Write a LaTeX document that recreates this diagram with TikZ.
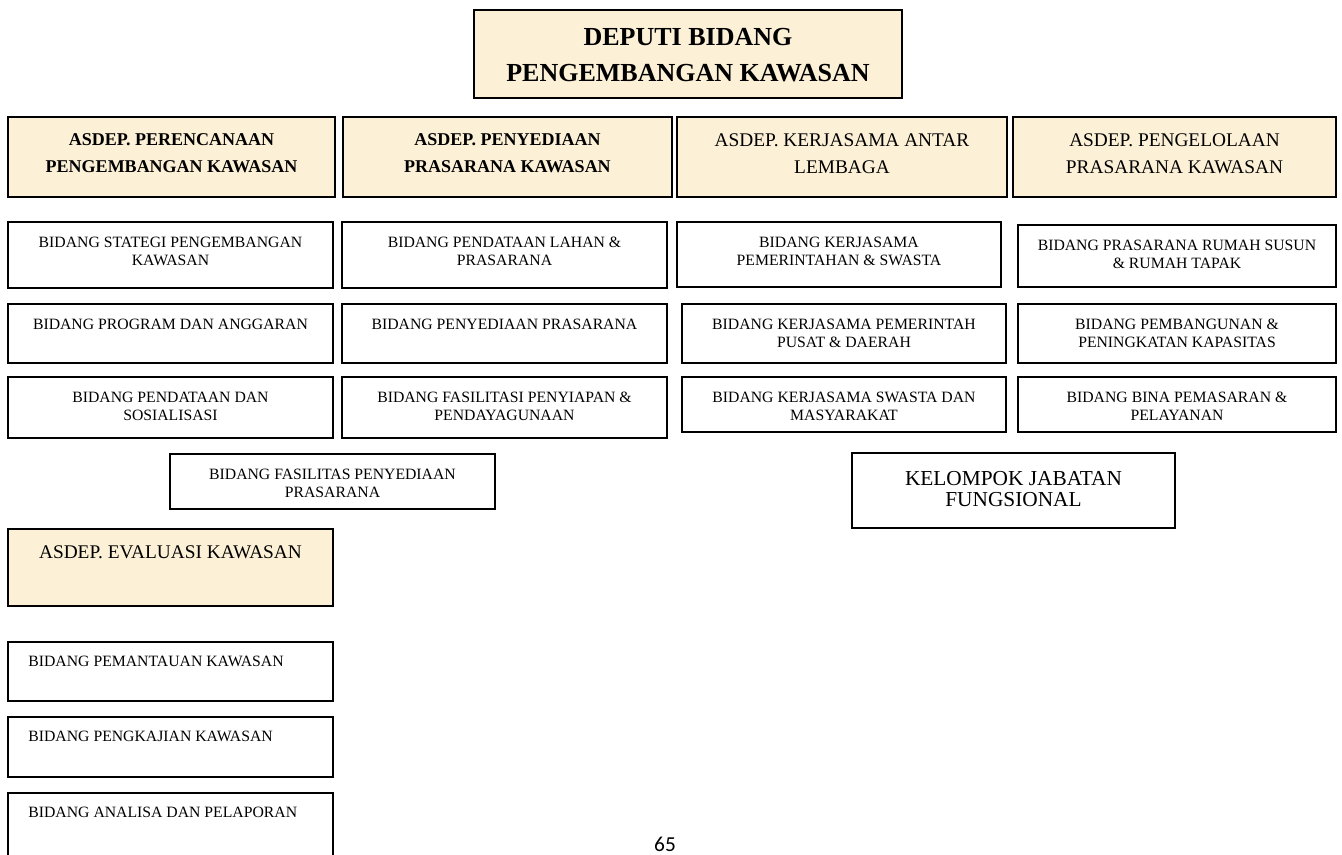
\documentclass[tikz,border=0pt]{standalone}
\usepackage{fontspec}
\setmainfont{Liberation Serif}
\newfontfamily\pagefont{Carlito}
\usepackage{tikz}
\usetikzlibrary{fit,shadows}
\definecolor{parch}{RGB}{252,240,214}
\tikzset{
    unit/.style={
           rectangle,
           draw=black, line width=1.3pt,
           fill=white,
           inner sep=0pt,
           drop shadow={shadow xshift=0.9pt, shadow yshift=-0.9pt, fill=black!40, opacity=1},
           },
    bidlbl/.style={anchor=north, yshift=-12pt, inner sep=0pt, align=center,
           font=\fontsize{11.8}{13.5}\selectfont},
    bidang/.style={unit, label={[bidlbl]north:#1}},
    bidangleft/.style={unit, label={[bidlbl, anchor=north west, xshift=15.75pt, yshift=0.75pt]north west:#1}},
    asdlbl/.style={anchor=north, yshift=-12.75pt, inner sep=0pt, align=center,
           font=\fontsize{14.5}{20.5}\selectfont},
    asdep/.style={unit, fill=parch, label={[asdlbl]north:#1}},
    asdepbold/.style={unit, fill=parch, label={[asdlbl, font=\fontsize{13.5}{20.5}\selectfont\bfseries]north:#1}},
    chief/.style={unit, fill=parch, line width=1.6pt,
           label={[asdlbl, yshift=-1.5pt, font=\fontsize{19.5}{27}\selectfont\bfseries]north:#1}},
    group/.style={unit, label={[asdlbl, yshift=-1.5pt, font=\fontsize{16}{16}\selectfont]north:#1}},
}

\begin{document}
\begin{tikzpicture}[x=0.75pt, y=-0.75pt]
    \useasboundingbox (0,0) rectangle (1342,855);
    \clip (0,0) rectangle (1342,855);

    % Deputi (top of the chart)
    \node[chief={DEPUTI BIDANG\\PENGEMBANGAN KAWASAN}, fit={(474,10)(902,98)}] (deputi) {};

    % Asisten deputi, one per column
    \node[asdepbold={ASDEP. PERENCANAAN\\PENGEMBANGAN KAWASAN}, fit={(8,117)(335,197)}] (rencana) {};
    \node[asdepbold={ASDEP. PENYEDIAAN\\PRASARANA KAWASAN}, fit={(343,117)(672,197)}] (sedia) {};
    \node[asdep={ASDEP. KERJASAMA ANTAR\\LEMBAGA}, fit={(677,117)(1007,197)}] (kerja) {};
    \node[asdep={ASDEP. PENGELOLAAN\\PRASARANA KAWASAN}, fit={(1013,117)(1336,197)}] (kelola) {};

    % Bidang under ASDEP. Perencanaan
    \node[bidang={BIDANG STATEGI PENGEMBANGAN\\KAWASAN}, fit={(8,222)(333,288)}] (rencana1) {};
    \node[bidang={BIDANG PROGRAM DAN ANGGARAN}, fit={(8,304)(333,363)}] (rencana2) {};
    \node[bidang={BIDANG PENDATAAN DAN\\SOSIALISASI}, fit={(8,377)(333,438)}] (rencana3) {};

    % Bidang under ASDEP. Penyediaan
    \node[bidang={BIDANG PENDATAAN LAHAN \&\\PRASARANA}, fit={(342,222)(667,288)}] (sedia1) {};
    \node[bidang={BIDANG PENYEDIAAN PRASARANA}, fit={(342,304)(667,363)}] (sedia2) {};
    \node[bidang={BIDANG FASILITASI PENYIAPAN \&\\PENDAYAGUNAAN}, fit={(342,377)(667,438)}] (sedia3) {};
    \node[bidang={BIDANG FASILITAS PENYEDIAAN\\PRASARANA}, fit={(170,454)(495,509)}] (sedia4) {};

    % Bidang under ASDEP. Kerjasama
    \node[bidang={BIDANG KERJASAMA\\PEMERINTAHAN \& SWASTA}, fit={(677,222)(1001,287)}] (kerja1) {};
    \node[bidang={BIDANG KERJASAMA PEMERINTAH\\PUSAT \& DAERAH}, fit={(682,304)(1006,363)}] (kerja2) {};
    \node[bidang={BIDANG KERJASAMA SWASTA DAN\\MASYARAKAT}, fit={(682,377)(1006,432)}] (kerja3) {};

    % Bidang under ASDEP. Pengelolaan
    \node[bidang={BIDANG PRASARANA RUMAH SUSUN\\\& RUMAH TAPAK}, fit={(1018,225)(1336,287)}] (kelola1) {};
    \node[bidang={BIDANG PEMBANGUNAN \&\\PENINGKATAN KAPASITAS}, fit={(1018,304)(1336,363)}] (kelola2) {};
    \node[bidang={BIDANG BINA PEMASARAN \&\\PELAYANAN}, fit={(1018,377)(1336,432)}] (kelola3) {};

    % Jabatan fungsional
    \node[group={KELOMPOK JABATAN\\FUNGSIONAL}, fit={(852,453)(1175,528)}] (fungsi) {};

    % ASDEP. Evaluasi with its bidang
    \node[asdep={ASDEP. EVALUASI KAWASAN}, fit={(8,529)(333,606)}] (evaluasi) {};
    \node[bidangleft={BIDANG PEMANTAUAN KAWASAN}, fit={(8,642)(333,701)}] (evaluasi1) {};
    \node[bidangleft={BIDANG PENGKAJIAN KAWASAN}, fit={(8,717)(333,777)}] (evaluasi2) {};
    \node[bidangleft={BIDANG ANALISA DAN PELAPORAN}, fit={(8,793)(333,880)}] (evaluasi3) {};

    % page number
    \node[anchor=base, inner sep=0pt, font=\pagefont\fontsize{16}{16}\selectfont] (page) at (665,851) {65};
\end{tikzpicture}
\end{document}
